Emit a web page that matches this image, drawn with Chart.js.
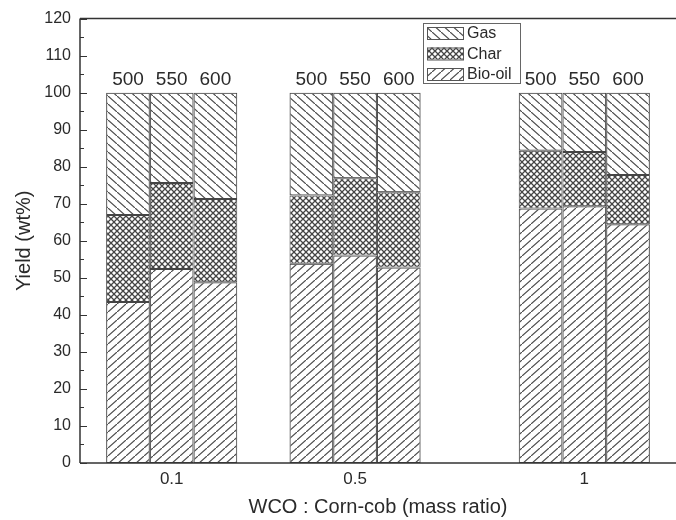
<!DOCTYPE html>
<html>
<head>
<meta charset="utf-8">
<script src="https://cdn.jsdelivr.net/npm/chart.js@4.4.1/dist/chart.umd.min.js"></script>
<style>
  html, body { margin: 0; padding: 0; background: #fff; }
</style>
</head>
<body>
<canvas id="chart" width="676" height="520"></canvas>
<script>
const ratios = [0.1, 0.5, 1];
const temps = ["500", "550", "600"];
// rows = temperature (500, 550, 600), columns = mass ratio (0.1, 0.5, 1)
const bioOil = [[43.5, 53.8, 68.7], [52.4, 56.0, 69.3], [48.8, 52.8, 64.5]];
const charYield = [[23.5, 18.4, 15.6], [23.2, 20.9, 14.7], [22.5, 20.3, 13.3]];
const gas = [[33.0, 27.8, 15.7], [24.4, 23.1, 16.0], [28.7, 26.9, 22.2]];
const yTicks = { min: 0, max: 120, step: 10 };

const FONT = "'Liberation Sans', Arial, sans-serif";
const INK = "#2a2a2a";

// hatch patterns (hachures)
function linePattern(dir) {
  const w = 9, h = 8;
  const c = document.createElement("canvas");
  c.width = w; c.height = h;
  const g = c.getContext("2d");
  g.strokeStyle = "#4a4a4a";
  g.lineWidth = 1.2;
  g.beginPath();
  if (dir > 0) { g.moveTo(-w, 2 * h); g.lineTo(2 * w, -h); }
  else { g.moveTo(-w, -h); g.lineTo(2 * w, 2 * h); }
  g.stroke();
  return g.createPattern(c, "repeat");
}

function crossPattern() {
  const s = 6;
  const c = document.createElement("canvas");
  c.width = s; c.height = s;
  const g = c.getContext("2d");
  g.fillStyle = "#fff";
  g.fillRect(0, 0, s, s);
  g.strokeStyle = "#444";
  g.lineWidth = 1.3;
  g.beginPath();
  g.moveTo(-s, -s); g.lineTo(2 * s, 2 * s);
  g.moveTo(-s, 2 * s); g.lineTo(2 * s, -s);
  g.stroke();
  return g.createPattern(c, "repeat");
}

const patGas = linePattern(-1);
const patChar = crossPattern();
const patBio = linePattern(1);

const series = [
  { name: "Bio-oil", rows: bioOil, fill: patBio },
  { name: "Char", rows: charYield, fill: patChar },
  { name: "Gas", rows: gas, fill: patGas },
];

const datasets = [];
temps.forEach((t, ti) => {
  series.forEach((s) => {
    datasets.push({
      label: s.name,
      stack: t,
      data: ratios.map((r, i) => ({ x: r, y: s.rows[ti][i] })),
      backgroundColor: s.fill,
      borderColor: "#444",
      borderWidth: 1,
      borderSkipped: false,
    });
  });
});

// cadre, graduations, étiquettes de température et légende
const decor = {
  id: "decor",
  afterDatasetsDraw(chart) {
    const { ctx, chartArea: a, scales } = chart;
    ctx.save();

    // axis lines + top border
    ctx.strokeStyle = "#333";
    ctx.lineWidth = 1.5;
    ctx.beginPath();
    ctx.moveTo(a.left, a.top); ctx.lineTo(a.right, a.top);
    ctx.moveTo(a.left, a.top); ctx.lineTo(a.left, a.bottom);
    ctx.moveTo(a.left, a.bottom); ctx.lineTo(a.right, a.bottom);
    ctx.stroke();

    // inward y ticks, minor every 5
    ctx.lineWidth = 1.2;
    ctx.beginPath();
    for (let v = yTicks.min; v <= yTicks.max; v += yTicks.step / 2) {
      const y = Math.round(scales.y.getPixelForValue(v)) + 0.5;
      const len = v % yTicks.step === 0 ? 7 : 4;
      ctx.moveTo(a.left, y); ctx.lineTo(a.left + len, y);
    }
    ctx.stroke();

    // temperature labels above each stack
    ctx.fillStyle = INK;
    ctx.font = "19px " + FONT;
    ctx.textAlign = "center";
    ctx.textBaseline = "alphabetic";
    temps.forEach((t, ti) => {
      const meta = chart.getDatasetMeta(ti * series.length + series.length - 1);
      meta.data.forEach((el) => {
        ctx.fillText(t, el.x, el.y - 8);
      });
    });

    // legend box
    const lx = 423, ly = 23, lw = 97, lh = 60;
    ctx.fillStyle = "#fff";
    ctx.fillRect(lx, ly, lw, lh);
    ctx.strokeStyle = "#666";
    ctx.lineWidth = 1;
    ctx.strokeRect(lx + 0.5, ly + 0.5, lw, lh);
    const items = [series[2], series[1], series[0]];
    ctx.font = "16px " + FONT;
    ctx.textAlign = "left";
    ctx.textBaseline = "middle";
    items.forEach((s, i) => {
      const cy = ly + 10 + i * 20.5;
      ctx.fillStyle = s.fill;
      ctx.fillRect(lx + 4, cy - 6, 36, 12);
      ctx.strokeStyle = "#555";
      ctx.strokeRect(lx + 4.5, cy - 5.5, 36, 12);
      ctx.fillStyle = INK;
      ctx.fillText(s.name, lx + 44, cy + 1);
    });

    ctx.restore();
  },
};

new Chart(document.getElementById("chart"), {
  type: "bar",
  data: { datasets },
  plugins: [decor],
  options: {
    responsive: false,
    animation: false,
    layout: { padding: { top: 13, right: 0, bottom: 0, left: 0 } },
    plugins: {
      legend: { display: false },
      tooltip: { enabled: false },
    },
    datasets: {
      bar: { categoryPercentage: 0.715, barPercentage: 1.0 },
    },
    scales: {
      x: {
        type: "linear",
        stacked: true,
        offset: false,
        min: -0.1,
        max: 1.2,
        afterBuildTicks: (s) => { s.ticks = ratios.map((v) => ({ value: v })); },
        afterFit: (s) => { s.height = 57; },
        grid: { display: false, drawTicks: false },
        border: { display: false },
        ticks: {
          padding: 6,
          color: INK,
          font: { family: FONT, size: 17 },
          maxRotation: 0,
          callback: (v) => String(v),
        },
        title: {
          display: true,
          text: "WCO : Corn-cob (mass ratio)",
          color: INK,
          font: { family: FONT, size: 20 },
          padding: { top: 0, bottom: 1 },
        },
      },
      y: {
        stacked: true,
        min: yTicks.min,
        max: yTicks.max,
        afterFit: (s) => { s.width = 80; },
        grid: { display: false, drawTicks: false },
        border: { display: false },
        ticks: {
          stepSize: yTicks.step,
          padding: 9,
          color: INK,
          font: { family: FONT, size: 16 },
        },
        title: {
          display: true,
          text: "Yield (wt%)",
          color: INK,
          font: { family: FONT, size: 20 },
          padding: { top: 12, bottom: 0 },
        },
      },
    },
  },
});
</script>
</body>
</html>
